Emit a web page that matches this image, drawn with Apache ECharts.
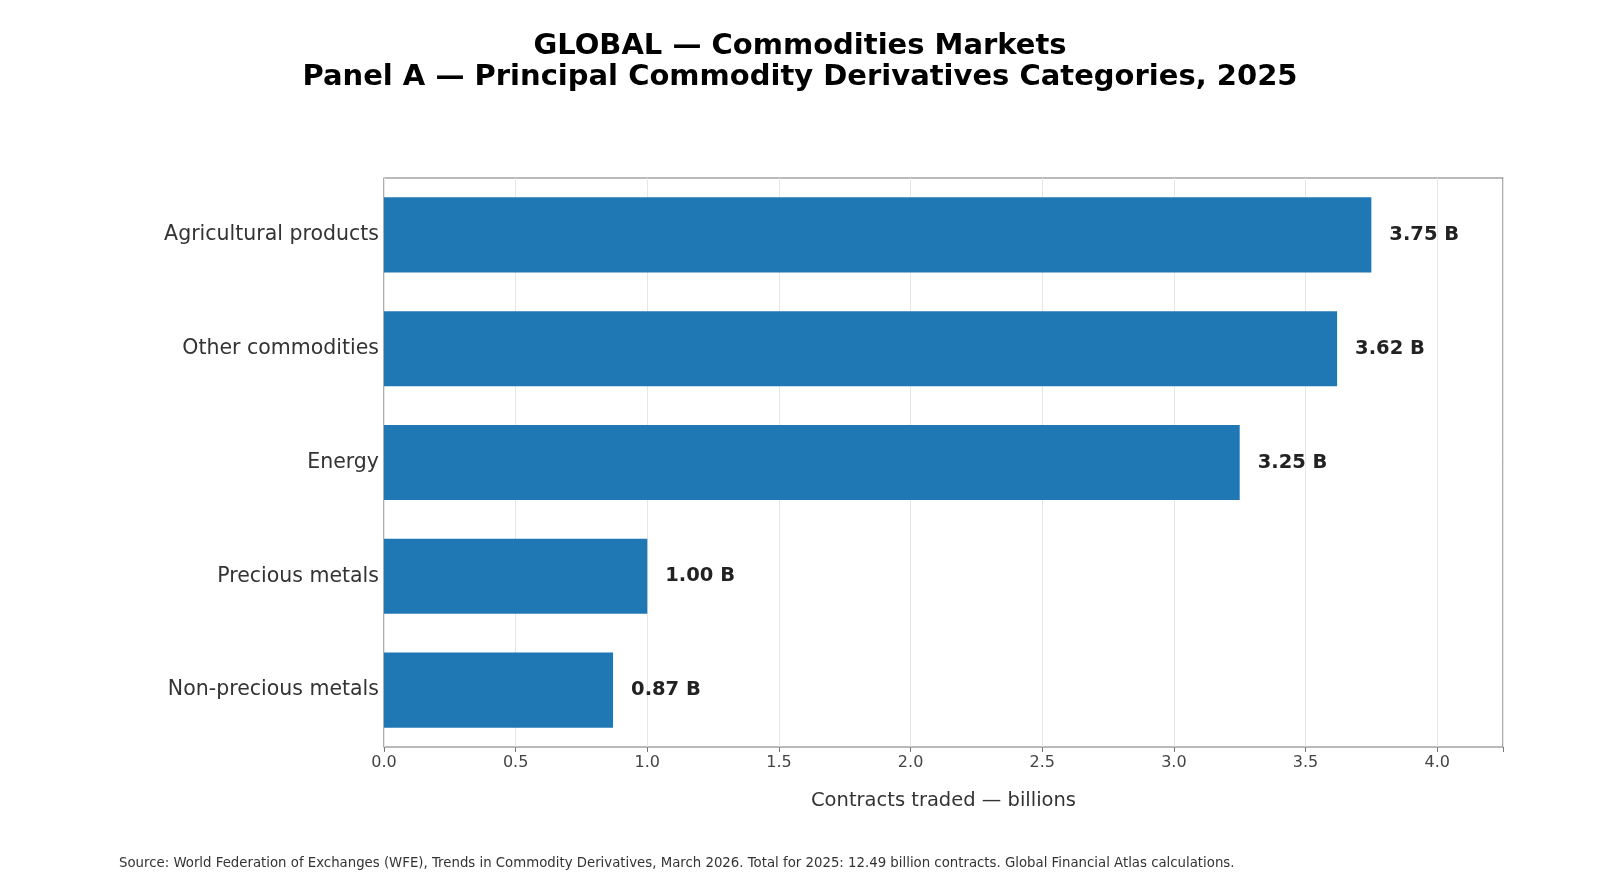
<!DOCTYPE html>
<html style="height: 100%">
<head>
<meta charset="utf-8">
<script src="https://cdn.jsdelivr.net/npm/echarts@6/dist/echarts.min.js"></script>
</head>
<body style="height: 100%; margin: 0; background: #fff">
<div id="container" style="width: 1600px; height: 890px"></div>
<script type="text/javascript">
const categories = ['Non-precious metals', 'Precious metals', 'Energy', 'Other commodities', 'Agricultural products'];
const contracts = [0.87, 1.00, 3.25, 3.62, 3.75];

const chart = echarts.init(document.getElementById('container'));
chart.setOption({
    textStyle: { fontFamily: 'DejaVu Sans' },
    title: {
        text: 'GLOBAL \u2014 Commodities Markets\nPanel A \u2014 Principal Commodity Derivatives Categories, 2025',
        left: 'center',
        top: 26,
        textStyle: { fontSize: 29, fontWeight: 'bold', color: '#000', lineHeight: 31, fontFamily: 'DejaVu Sans' }
    },
    graphic: [{
        type: 'text', left: 119, top: 857,
        style: {
            text: 'Source: World Federation of Exchanges (WFE), Trends in Commodity Derivatives, March 2026. Total for 2025: 12.49 billion contracts. Global Financial Atlas calculations.',
            fontSize: 13.3, fill: '#333', fontFamily: 'DejaVu Sans'
        }
    }],
    grid: { left: 384, right: 97, top: 178, bottom: 143, show: true, borderColor: '#777', borderWidth: 1.2 },
    xAxis: {
        type: 'value', min: 0, max: 4.25, interval: 0.5,
        name: 'Contracts traded \u2014 billions', nameLocation: 'middle', nameGap: 44,
        nameTextStyle: { fontSize: 19.5, color: '#333' },
        axisLine: { show: false },
        axisTick: { show: true, length: 5, lineStyle: { color: '#777' } },
        axisLabel: {
            fontSize: 16, color: '#444', margin: 8,
            formatter: v => (Math.abs(v * 2 - Math.round(v * 2)) < 1e-9) ? v.toFixed(1) : ''
        },
        splitLine: { show: true, lineStyle: { color: '#e6e6e6' } }
    },
    yAxis: {
        type: 'category', data: categories,
        axisLine: { show: false }, axisTick: { show: false },
        axisLabel: { fontSize: 20.5, color: '#333', margin: 5 }
    },
    series: [{
        type: 'bar', data: contracts, barCategoryGap: '34%',
        itemStyle: { color: '#1f77b4' },
        label: {
            show: true, position: 'right', distance: 18,
            formatter: p => p.value.toFixed(2) + ' B',
            fontSize: 19.5, fontWeight: 'bold', color: '#222'
        }
    }]
});
</script>
</body>
</html>
